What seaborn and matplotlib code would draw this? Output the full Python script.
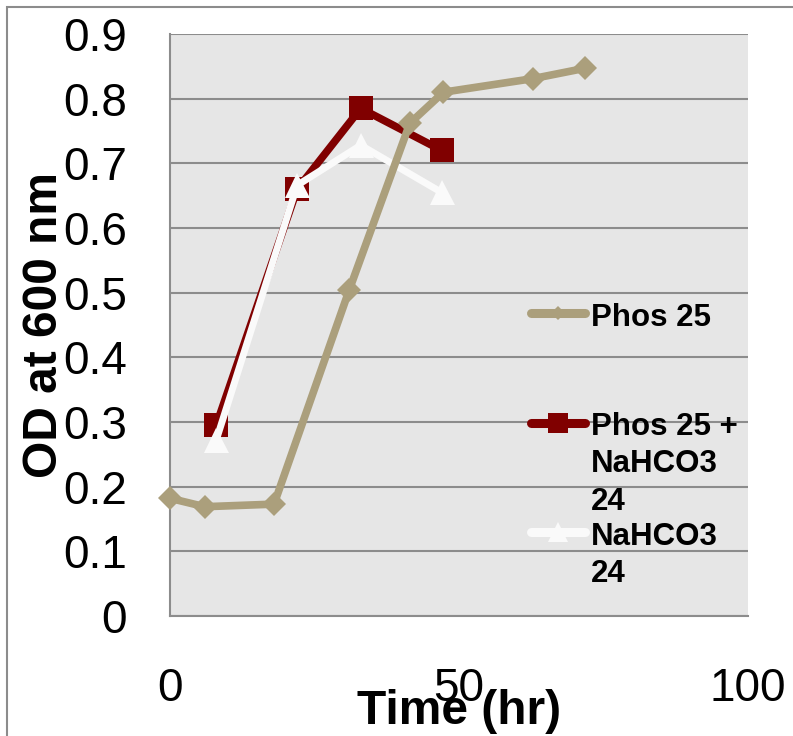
import matplotlib
matplotlib.use("Agg")
import matplotlib.pyplot as plt
import seaborn as sns
import pandas as pd
from matplotlib.lines import Line2D
from matplotlib.patches import Rectangle

# ---- data ----
phos_time = [0, 6, 18, 31, 41.5, 47.3, 62.8, 71.8]
phos_od = [0.182, 0.169, 0.173, 0.504, 0.762, 0.810, 0.831, 0.847]

mix_time = [8, 22, 33, 47]
mix_od = [0.295, 0.660, 0.785, 0.720]

nahco3_time = [8, 22, 33, 47]
nahco3_od = [0.272, 0.666, 0.728, 0.655]

series_names = ["Phos 25", "Phos 25 +\nNaHCO3\n24", "NaHCO3\n24"]
y_ticks = [0, 0.1, 0.2, 0.3, 0.4, 0.5, 0.6, 0.7, 0.8, 0.9]
y_tick_labels = ["0", "0.1", "0.2", "0.3", "0.4", "0.5", "0.6", "0.7", "0.8", "0.9"]
x_ticks = [0, 50, 100]
x_tick_labels = ["0", "50", "100"]

TAN = "#ab9f7c"
RED = "#800000"
WHITE = "#fafafa"
BG = "#e6e6e6"
GRID = "#8c8c8c"

sns.set_theme(style="white")
plt.rcParams["font.family"] = ["Liberation Sans", "DejaVu Sans"]
plt.rcParams["text.color"] = "black"
plt.rcParams["axes.labelcolor"] = "black"

fig = plt.figure(figsize=(7.93, 7.36), dpi=100)
ax = fig.add_axes([170 / 793, 1 - 616 / 736, (748 - 170) / 793, (616 - 34) / 736])
ax.set_facecolor(BG)

# figure border
fig.patches.append(Rectangle((7 / 793, -0.1), 1.2, 1 - 7 / 736 + 0.1,
                             transform=fig.transFigure, fill=False,
                             edgecolor="#8c8c8c", linewidth=1.5, zorder=0))

df_phos = pd.DataFrame({"t": phos_time, "od": phos_od})
df_mix = pd.DataFrame({"t": mix_time, "od": mix_od})
df_na = pd.DataFrame({"t": nahco3_time, "od": nahco3_od})

sns.lineplot(data=df_mix, x="t", y="od", ax=ax, color=RED, linewidth=5.5,
             marker="s", markersize=17, markeredgewidth=0, sort=False,
             clip_on=False, zorder=3)
sns.lineplot(data=df_na, x="t", y="od", ax=ax, color=WHITE, linewidth=5.0,
             marker="^", markersize=18, markeredgewidth=0, sort=False,
             clip_on=False, zorder=4)
sns.lineplot(data=df_phos, x="t", y="od", ax=ax, color=TAN, linewidth=5.5,
             marker="D", markersize=12, markeredgewidth=0, sort=False,
             clip_on=False, zorder=5)

ax.set_xlim(0, 100)
ax.set_ylim(0, 0.9)
ax.set_yticks(y_ticks)
ax.set_yticklabels(y_tick_labels)
ax.set_xticks(x_ticks)
ax.set_xticklabels(x_tick_labels)
ax.tick_params(axis="both", length=0, labelsize=33, colors="black")
ax.tick_params(axis="y", pad=31)
ax.tick_params(axis="x", pad=37)

ax.yaxis.grid(True, color=GRID, linewidth=1.5)
ax.xaxis.grid(False)
ax.set_axisbelow(True)

for side in ["top", "right"]:
    ax.spines[side].set_visible(False)
for side in ["left", "bottom"]:
    ax.spines[side].set_visible(True)
    ax.spines[side].set_color(GRID)
    ax.spines[side].set_linewidth(1.5)

ax.set_xlabel("Time (hr)", fontsize=34.5, fontweight="bold", color="black")
ax.set_ylabel("OD at 600 nm", fontsize=34.5, fontweight="bold", color="black")
ax.xaxis.set_label_coords(0.5, -0.125)
ax.yaxis.set_label_coords(-0.178, 0.5)

# manual legend (handle at first line of each label)
leg_specs = [
    (TAN, "D", 7.5, 0.5206, 0.5378),
    (RED, "s", 14, 0.3316, 0.3505),
    (WHITE, "^", 14, 0.1443, 0.1615),
]
for (col, mk, ms, hy, ty), name in zip(leg_specs, series_names):
    ln = Line2D([0.625, 0.718], [hy, hy], transform=ax.transAxes, color=col,
                linewidth=6.5, solid_capstyle="round", clip_on=False, zorder=6)
    ax.add_line(ln)
    mk_ln = Line2D([0.6715], [hy], transform=ax.transAxes, color=col,
                   marker=mk, markersize=ms, markeredgewidth=0, linestyle="none",
                   clip_on=False, zorder=7)
    ax.add_line(mk_ln)
    ax.text(0.728, ty, name, transform=ax.transAxes, ha="left", va="top",
            fontsize=22.5, fontweight="bold", linespacing=1.32, zorder=8,
            color="black")

fig.savefig("out.png", dpi=100)
